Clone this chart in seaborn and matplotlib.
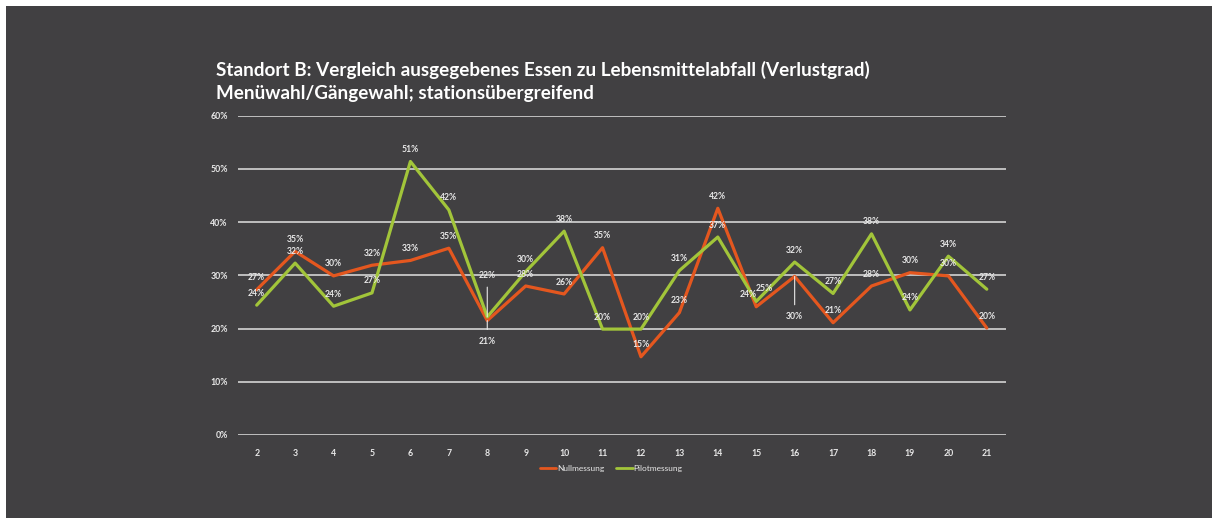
import matplotlib
matplotlib.use("Agg")
import matplotlib.pyplot as plt
import seaborn as sns
import pandas as pd
from matplotlib.patches import Rectangle
from matplotlib.lines import Line2D

# ---- data ----
stations = list(range(2, 22))
null_vals = [27.3, 34.5, 29.9, 31.9, 32.8, 35.1, 21.5, 28.0, 26.5, 35.2,
             14.7, 23.0, 42.6, 24.1, 29.8, 21.1, 28.0, 30.5, 29.9, 20.1]
pilot_vals = [24.4, 32.3, 24.2, 26.7, 51.4, 42.3, 22.2, 30.7, 38.3, 19.9,
              19.9, 30.9, 37.2, 25.1, 32.5, 26.6, 37.8, 23.5, 33.6, 27.4]
null_labels = ["27%", "35%", "30%", "32%", "33%", "35%", "21%", "28%", "26%", "35%",
               "15%", "23%", "42%", "24%", "30%", "21%", "28%", "30%", "30%", "20%"]
pilot_labels = ["24%", "32%", "24%", "27%", "51%", "42%", "22%", "30%", "38%", "20%",
                "20%", "31%", "37%", "25%", "32%", "27%", "38%", "24%", "34%", "27%"]
series_names = ["Nullmessung", "Pilotmessung"]
y_ticks = [0, 10, 20, 30, 40, 50, 60]
y_tick_labels = ["0%", "10%", "20%", "30%", "40%", "50%", "60%"]
title_line1 = "Standort B: Vergleich ausgegebenes Essen zu Lebensmittelabfall (Verlustgrad)"
title_line2 = "Menüwahl/Gängewahl; stationsübergreifend"

BG = "#414042"
GRID = "#bfbfbf"
TXT = "#e8e8e8"
colors = {"Nullmessung": "#e4571f", "Pilotmessung": "#a2c53a"}

df = pd.DataFrame({
    "Station": stations * 2,
    "Wert": null_vals + pilot_vals,
    "Serie": [series_names[0]] * len(stations) + [series_names[1]] * len(stations),
})

sns.set_theme(style="dark")
plt.rcParams["font.family"] = ["Lato", "DejaVu Sans"]

W, H = 1212, 518
fig = plt.figure(figsize=(W / 100, H / 100), dpi=100)
fig.patch.set_facecolor("white")
fig.add_artist(Rectangle((6 / W, 0), 1 - 6 / W, 1 - 6 / H, transform=fig.transFigure,
                         facecolor=BG, edgecolor="none", zorder=0))

left, right = 237.5 / W, 1006 / W
bottom, top = (H - 435) / H, (H - 115.7) / H
ax = fig.add_axes([left, bottom, right - left, top - bottom])
ax.set_facecolor("none")

for yv in y_ticks:
    ax.axhline(yv, color=GRID, lw=1.4, zorder=1)

sns.lineplot(data=df, x="Station", y="Wert", hue="Serie", palette=colors,
             hue_order=series_names, linewidth=2.3, ax=ax, zorder=3, legend=False)

ax.set_xlim(1.5, 21.5)
ax.set_ylim(0, 60)
ax.set_xticks(stations)
ax.set_xticklabels([str(s) for s in stations])
ax.set_yticks(y_ticks)
ax.set_yticklabels(y_tick_labels)
ax.tick_params(axis="both", length=0, colors=TXT, labelsize=6.3)
ax.tick_params(axis="x", pad=10)
ax.tick_params(axis="y", pad=7)
for lab in ax.get_xticklabels() + ax.get_yticklabels():
    lab.set_fontweight("bold")
ax.set_xlabel("")
ax.set_ylabel("")
for s in ax.spines.values():
    s.set_visible(False)
ax.grid(False)

# data labels
def put(x, y, text, dy_pt, dx_pt=0, leader=False):
    ax.annotate(text, xy=(x, y), xytext=(dx_pt, dy_pt), textcoords="offset points",
                ha="center", va="center", fontsize=6.2, color=TXT, fontweight="bold",
                zorder=5,
                arrowprops=dict(arrowstyle="-", color=TXT, lw=0.8, shrinkA=3, shrinkB=0)
                if leader else None)

for x, v, t in zip(stations, null_vals, null_labels):
    if x == 8:
        put(x, v, t, -15, leader=True)
    elif x == 16:
        put(x, v, t, -29, leader=True)
    elif x == 15:
        put(x, v, t, 9, dx_pt=-6)
    else:
        put(x, v, t, 8.6)

for x, v, t in zip(stations, pilot_vals, pilot_labels):
    if x == 8:
        put(x, v, t, 30, leader=True)
    elif x == 15:
        put(x, v, t, 9, dx_pt=6)
    else:
        put(x, v, t, 8.6)

# legend
handles = [Line2D([0], [0], color=colors[n], lw=2) for n in series_names]
leg = fig.legend(handles, series_names, loc="center", bbox_to_anchor=(611 / W, (H - 468) / H),
                 ncol=2, frameon=False, fontsize=6, handlelength=2.0, handletextpad=0.1,
                 columnspacing=1.4)
for t in leg.get_texts():
    t.set_color(TXT)

fig.text(216 / W, (H - 70) / H, title_line1, ha="left", va="center", fontsize=13.6,
         fontweight="bold", color="white")
fig.text(216 / W, (H - 94) / H, title_line2, ha="left", va="center", fontsize=13.6,
         fontweight="bold", color="white")

fig.savefig("out.png", dpi=100, facecolor=fig.get_facecolor())
